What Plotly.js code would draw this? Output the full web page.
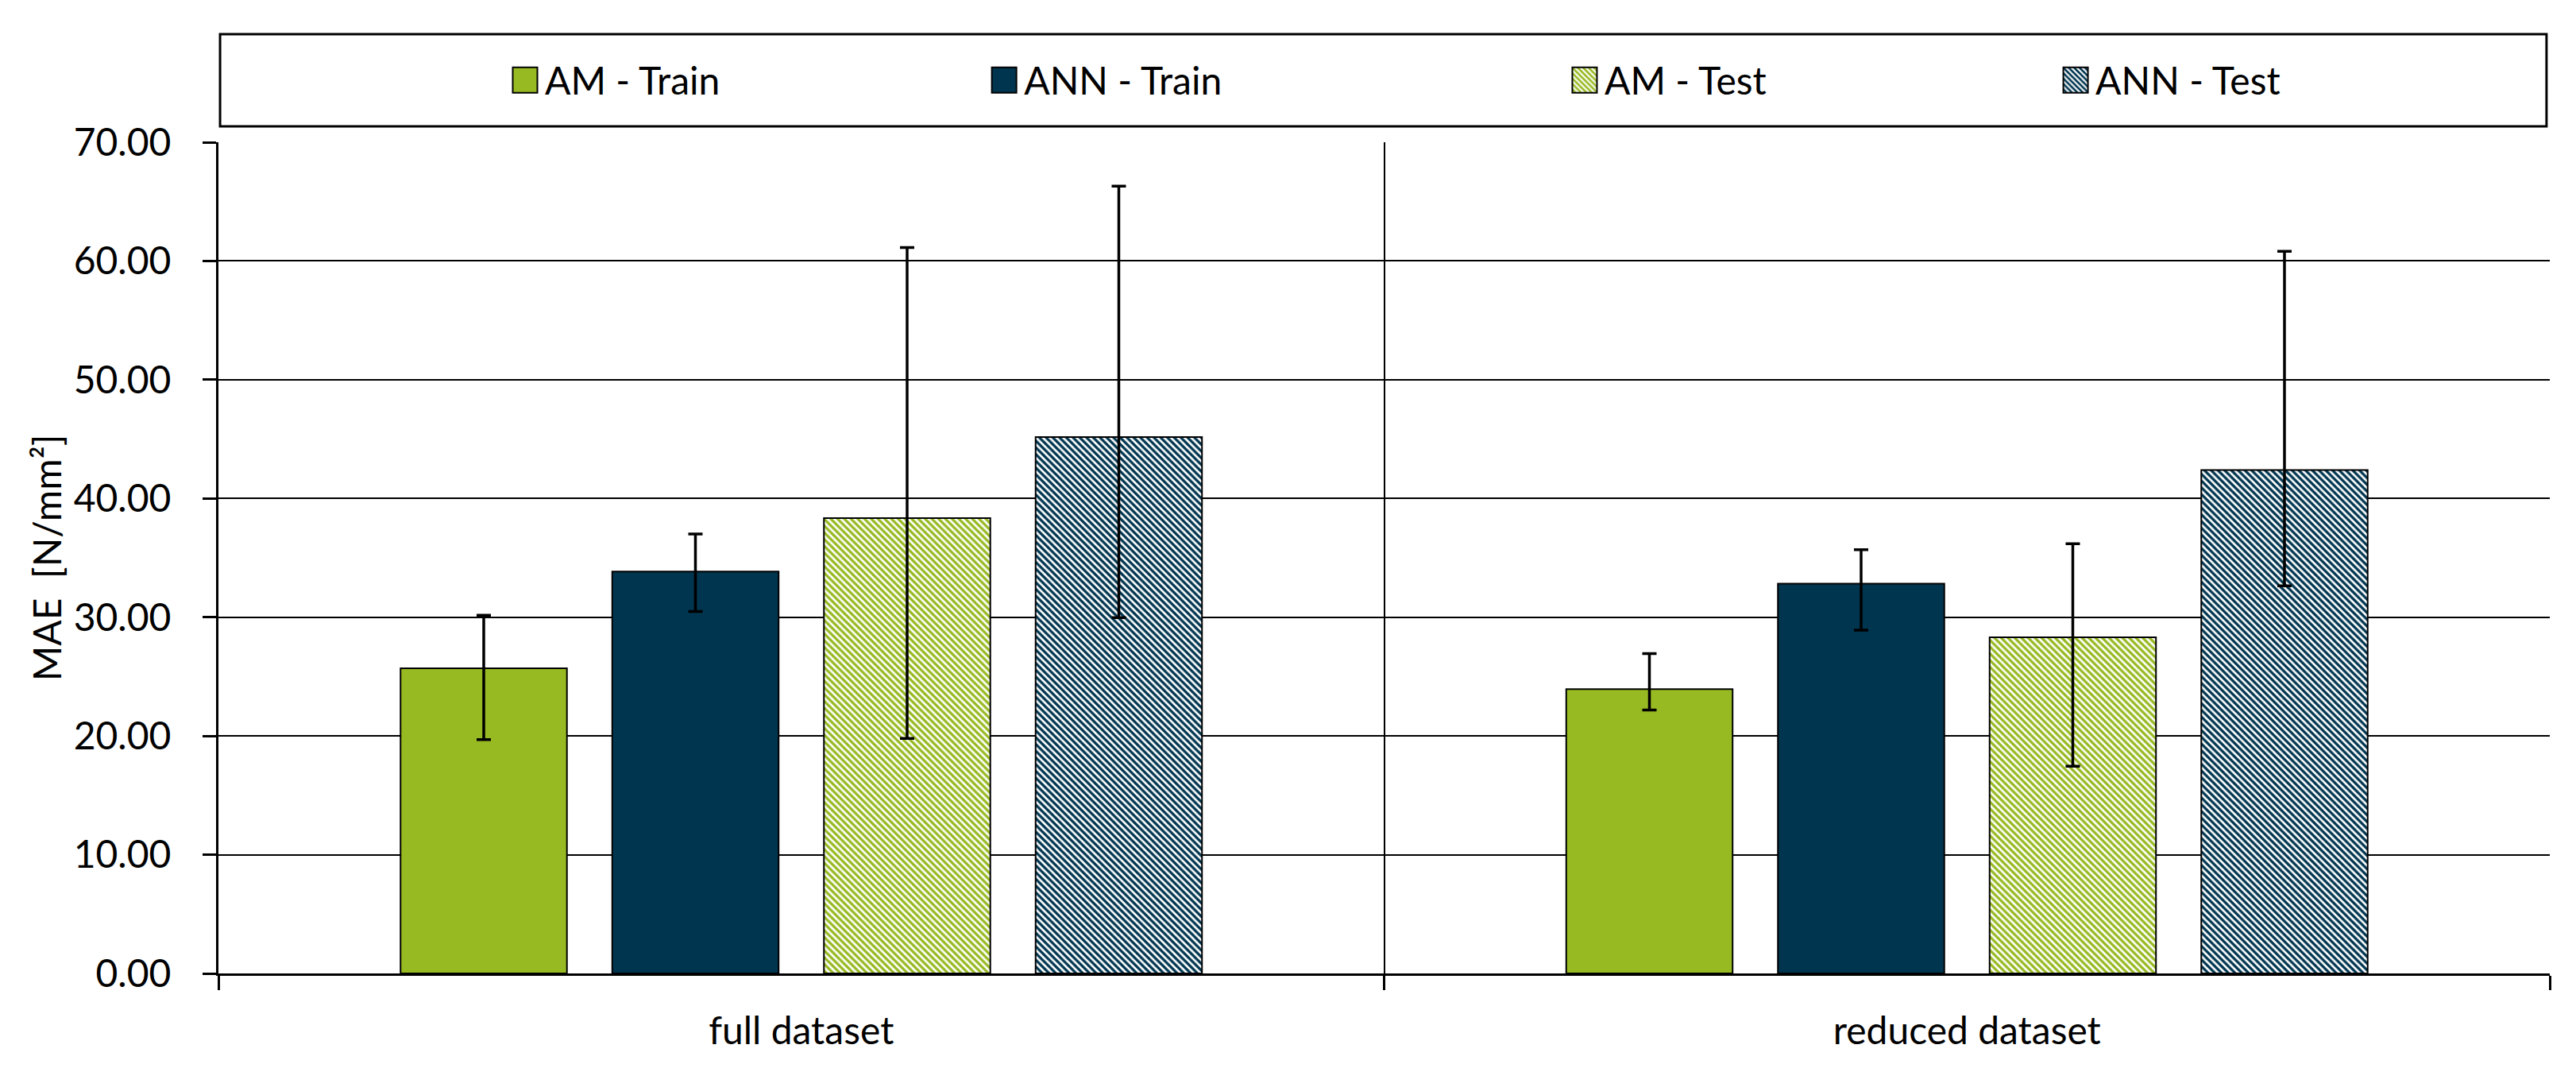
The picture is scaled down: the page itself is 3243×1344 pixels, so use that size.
<!DOCTYPE html>
<html>
<head>
<meta charset="utf-8">
<script src="https://cdn.plot.ly/plotly-3.0.1.min.js"></script>
<style>
  html, body { margin: 0; padding: 0; background: #ffffff; }
  #chart { width: 3243px; height: 1344px; }
</style>
</head>
<body>
<div id="chart"></div>
<script>
// ---- data ----
const categories = ["full dataset", "reduced dataset"];
const seriesNames = ["AM - Train", "ANN - Train", "AM - Test", "ANN - Test"];

const amTrain  = [25.70, 23.94];
const annTrain = [33.84, 32.83];
const amTest   = [38.35, 28.31];
const annTest  = [45.17, 42.40];

const amTrainPlus  = [4.46, 2.99];
const amTrainMinus = [6.00, 1.75];
const annTrainPlus  = [3.16, 2.85];
const annTrainMinus = [3.36, 3.92];
const amTestPlus  = [22.79, 7.88];
const amTestMinus = [18.55, 10.86];
const annTestPlus  = [21.13, 18.42];
const annTestMinus = [15.20, 9.76];

const yTickVals = [0, 10, 20, 30, 40, 50, 60, 70];

// ---- styles ----
const GREEN = "#97BA22";
const NAVY = "#00354F";
const FONT = "Lato, 'Liberation Sans', sans-serif";

function errBar(plus, minus) {
  return { type: "data", symmetric: false, array: plus, arrayminus: minus,
           color: "#000000", thickness: 3.5, width: 9 };
}

const traces = [
  { type: "bar", name: seriesNames[0], x: categories, y: amTrain, legend: "legend",
    marker: { color: GREEN, line: { color: "#000000", width: 2 } },
    error_y: errBar(amTrainPlus, amTrainMinus) },
  { type: "bar", name: seriesNames[1], x: categories, y: annTrain, legend: "legend2",
    marker: { color: NAVY, line: { color: "#000000", width: 2 } },
    error_y: errBar(annTrainPlus, annTrainMinus) },
  { type: "bar", name: seriesNames[2], x: categories, y: amTest, legend: "legend3",
    marker: { color: "#ffffff", line: { color: "#000000", width: 2 },
              pattern: { shape: "\\", fgcolor: GREEN, bgcolor: "#ffffff", size: 6, solidity: 0.55, fillmode: "replace" } },
    error_y: errBar(amTestPlus, amTestMinus) },
  { type: "bar", name: seriesNames[3], x: categories, y: annTest, legend: "legend4",
    marker: { color: "#ffffff", line: { color: "#000000", width: 2 },
              pattern: { shape: "\\", fgcolor: NAVY, bgcolor: "#ffffff", size: 6, solidity: 0.55, fillmode: "replace" } },
    error_y: errBar(annTestPlus, annTestMinus) }
];

function legendAt(x) {
  return { x: x, xanchor: "left", y: 1.0746, yanchor: "middle", orientation: "h",
           font: { family: FONT, size: 48, color: "#000000" },
           bgcolor: "rgba(0,0,0,0)", borderwidth: 0, itemwidth: 40 };
}

const layout = {
  width: 3243, height: 1344,
  paper_bgcolor: "#ffffff", plot_bgcolor: "#ffffff",
  margin: { l: 275, r: 33, t: 179, b: 119, pad: 0 },
  font: { family: FONT, size: 48, color: "#000000" },
  barmode: "group",
  bargap: 0.2736,
  bargroupgap: 0.214,
  showlegend: true,
  legend: legendAt(0.123),
  legend2: legendAt(0.3285),
  legend3: legendAt(0.5775),
  legend4: legendAt(0.7881),
  xaxis: {
    type: "category",
    tickson: "boundaries",
    ticks: "outside", ticklen: 18, tickwidth: 3, tickcolor: "#000000",
    showline: true, linecolor: "#000000", linewidth: 3,
    showgrid: true, gridcolor: "#000000", gridwidth: 2,
    tickfont: { family: FONT, size: 48, color: "#000000" },
    ticklabelstandoff: 28,
    automargin: false
  },
  yaxis: {
    range: [0, 70],
    tickvals: yTickVals,
    tickformat: ".2f",
    ticks: "outside", ticklen: 17, tickwidth: 3, tickcolor: "#000000",
    showline: true, linecolor: "#000000", linewidth: 3,
    showgrid: true, gridcolor: "#000000", gridwidth: 2,
    zeroline: false,
    tickfont: { family: FONT, size: 48, color: "#000000" },
    ticklabelstandoff: 30,
    title: { text: "MAE\u00a0\u00a0[N/mm²]", font: { family: FONT, size: 48, color: "#000000" }, standoff: 0 },
    automargin: false
  },
  shapes: [
    { type: "rect", xref: "paper", yref: "paper", x0: 0.0007, x1: 0.9986, y0: 1.0191, y1: 1.1300,
      line: { color: "#000000", width: 3 }, fillcolor: "rgba(0,0,0,0)", layer: "above" }
  ]
};

Plotly.newPlot("chart", traces, layout, { displayModeBar: false, staticPlot: true }).then(function () {
  document.querySelectorAll(".legendpoints path").forEach(function (p) {
    p.setAttribute("d", "M15.5,16H-15.5V-16H15.5Z");
  });
});
</script>
</body>
</html>
